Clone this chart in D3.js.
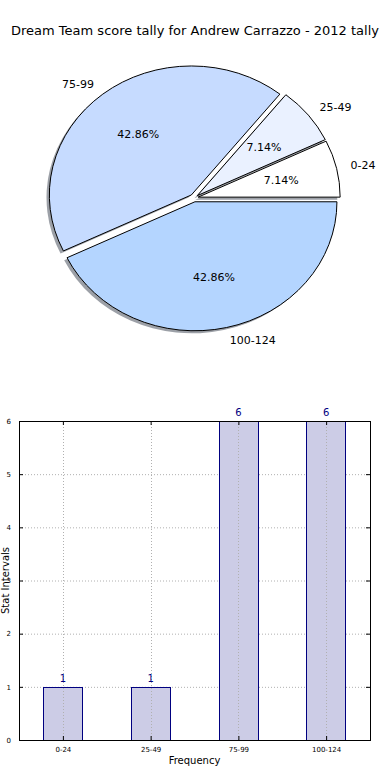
<!DOCTYPE html>
<html>
<head>
<meta charset="utf-8">
<script src="https://cdn.jsdelivr.net/npm/d3@7"></script>
<style>
  body { margin: 0; background: #fff; }
  text { font-family: "DejaVu Sans", sans-serif; }
</style>
</head>
<body>
<svg id="chart" width="390" height="780"></svg>
<script>
var TITLE = 'Dream Team score tally for Andrew Carrazzo - 2012 tally';

var pieLabels = ['0-24', '25-49', '75-99', '100-124'];
var pieCounts = [1, 1, 6, 6];
var pieColors = ['#ffffff', '#eaf1ff', '#c6dbff', '#b4d5ff'];

var barLabels = ['0-24', '25-49', '75-99', '100-124'];
var barValues = [1, 1, 6, 6];
var yTicks = [0, 1, 2, 3, 4, 5, 6];

var EXPLODE = 0.03;

var svg = d3.select('#chart');

svg.append('text')
  .attr('x', 195)
  .attr('y', 35)
  .attr('text-anchor', 'middle')
  .style('font-size', '13px')
  .text(TITLE);

// ---- pie (matplotlib style, elliptical because axes aren't equal) ----
var cx = 194, cy = 198, rx = 142, ry = 129;
var total = d3.sum(pieCounts);

var pie = d3.pie()
  .sort(null)
  .startAngle(Math.PI / 2)
  .endAngle(Math.PI / 2 - 2 * Math.PI);

var arcs = pie(pieCounts);
var arc = d3.arc().innerRadius(0).outerRadius(rx);

function mid(d){ return (d.startAngle + d.endAngle) / 2; }

var pieG = svg.append('g');

// shadows first
pieG.selectAll('.shadow')
  .data(arcs)
  .enter()
  .append('path')
  .attr('class', 'shadow')
  .attr('transform', function(d){
    var m = mid(d);
    var ox = cx + EXPLODE * rx * Math.sin(m) - 0.02 * rx;
    var oy = cy - EXPLODE * ry * Math.cos(m) + 0.02 * ry;
    return 'translate(' + ox + ',' + oy + ') scale(1,' + (ry / rx) + ')';
  })
  .attr('d', arc)
  .attr('fill', '#3a4150')
  .attr('fill-opacity', 0.5)
  .attr('stroke', 'none');

pieG.selectAll('.wedge')
  .data(arcs)
  .enter()
  .append('path')
  .attr('class', 'wedge')
  .attr('transform', function(d){
    var m = mid(d);
    var ox = cx + EXPLODE * rx * Math.sin(m);
    var oy = cy - EXPLODE * ry * Math.cos(m);
    return 'translate(' + ox + ',' + oy + ') scale(1,' + (ry / rx) + ')';
  })
  .attr('d', arc)
  .attr('fill', (d, i) => pieColors[i])
  .attr('stroke', '#000')
  .attr('stroke-width', 1)
  .attr('vector-effect', 'non-scaling-stroke')
  .attr('stroke-linejoin', 'miter');

pieG.selectAll('.plabel')
  .data(arcs)
  .enter()
  .append('text')
  .attr('class', 'plabel')
  .attr('x', d => cx + (EXPLODE + 1.1) * rx * Math.sin(mid(d)))
  .attr('y', d => cy - (EXPLODE + 1.1) * ry * Math.cos(mid(d)))
  .attr('dy', '0.35em')
  .attr('text-anchor', d => Math.sin(mid(d)) < 0 ? 'end' : 'start')
  .style('font-size', '11px')
  .text((d, i) => pieLabels[i]);

pieG.selectAll('.pct')
  .data(arcs)
  .enter()
  .append('text')
  .attr('class', 'pct')
  .attr('x', d => cx + (EXPLODE + 0.6) * rx * Math.sin(mid(d)))
  .attr('y', d => cy - (EXPLODE + 0.6) * ry * Math.cos(mid(d)))
  .attr('dy', '0.35em')
  .attr('text-anchor', 'middle')
  .style('font-size', '11px')
  .text(d => d3.format('.2f')(d.value / total * 100) + '%');

// ---- bar chart ----
var plotL = 19, plotR = 370, plotT = 421, plotB = 740;

var x = d3.scaleLinear()
  .domain([-0.5, barLabels.length - 0.5])
  .range([plotL, plotR]);

var y = d3.scaleLinear()
  .domain([0, 6])
  .range([plotB, plotT]);

var BAR_W = 0.45;
var bars = svg.append('g');

// grid
bars.selectAll('.ygrid')
  .data(yTicks)
  .enter()
  .append('line')
  .attr('class', 'ygrid')
  .attr('x1', plotL).attr('x2', plotR)
  .attr('y1', d => y(d) + 0.5).attr('y2', d => y(d) + 0.5)
  .attr('stroke', '#b0b0b0')
  .attr('stroke-width', 1)
  .attr('stroke-dasharray', '1,2');

bars.selectAll('.bar')
  .data(barValues)
  .enter()
  .append('rect')
  .attr('class', 'bar')
  .attr('x', (d, i) => Math.round(x(i - BAR_W / 2)) + 0.5)
  .attr('y', d => Math.round(y(d)) + 0.5)
  .attr('width', Math.round(x(BAR_W) - x(0)))
  .attr('height', d => Math.round(plotB - y(d)))
  .attr('fill', '#ccccE6')
  .attr('stroke', '#000080')
  .attr('stroke-width', 1);

bars.selectAll('.xgrid')
  .data(barLabels)
  .enter()
  .append('line')
  .attr('class', 'xgrid')
  .attr('x1', (d, i) => Math.round(x(i)) + 0.5).attr('x2', (d, i) => Math.round(x(i)) + 0.5)
  .attr('y1', plotT).attr('y2', plotB)
  .attr('stroke', '#b0b0b0')
  .attr('stroke-width', 1)
  .attr('stroke-dasharray', '1,2');

bars.selectAll('.val')
  .data(barValues)
  .enter()
  .append('text')
  .attr('class', 'val')
  .attr('x', (d, i) => x(i))
  .attr('y', d => y(d + 0.05) - 2)
  .attr('text-anchor', 'middle')
  .attr('fill', '#000080')
  .style('font-size', '10px')
  .text(d => d);

// frame
bars.append('rect')
  .attr('x', plotL + 0.5).attr('y', plotT + 0.5)
  .attr('width', plotR - plotL).attr('height', plotB - plotT)
  .attr('fill', 'none')
  .attr('stroke', '#000')
  .attr('stroke-width', 1);

// ticks (inside, both sides)
var yAxisL = d3.axisLeft(y).tickValues(yTicks).tickFormat(d3.format('d'))
  .tickSizeInner(-4).tickSizeOuter(0).tickPadding(8);
var gl = bars.append('g').attr('transform', 'translate(' + plotL + ',0)').call(yAxisL);
gl.select('.domain').remove();
gl.selectAll('text').style('font-size', '7px').style('font-family', 'DejaVu Sans');

var yAxisR = d3.axisRight(y).tickValues(yTicks).tickSizeInner(-4).tickSizeOuter(0).tickFormat('');
var gr = bars.append('g').attr('transform', 'translate(' + plotR + ',0)').call(yAxisR);
gr.select('.domain').remove();

var xAxisB = d3.axisBottom(x).tickValues(d3.range(barLabels.length))
  .tickFormat(i => barLabels[i]).tickSizeInner(-4).tickSizeOuter(0).tickPadding(7);
var gb = bars.append('g').attr('transform', 'translate(0,' + plotB + ')').call(xAxisB);
gb.select('.domain').remove();
gb.selectAll('text').style('font-size', '7px').style('font-family', 'DejaVu Sans');

var xAxisT = d3.axisTop(x).tickValues(d3.range(barLabels.length)).tickSizeInner(-4).tickSizeOuter(0).tickFormat('');
var gt = bars.append('g').attr('transform', 'translate(0,' + plotT + ')').call(xAxisT);
gt.select('.domain').remove();

svg.append('text')
  .attr('x', (plotL + plotR) / 2)
  .attr('y', 764)
  .attr('text-anchor', 'middle')
  .style('font-size', '10px')
  .text('Frequency');

svg.append('text')
  .attr('transform', 'translate(5,' + ((plotT + plotB) / 2) + ') rotate(-90)')
  .attr('text-anchor', 'middle')
  .attr('dy', '0.35em')
  .style('font-size', '10px')
  .text('Stat Intervals');
</script>
</body>
</html>
